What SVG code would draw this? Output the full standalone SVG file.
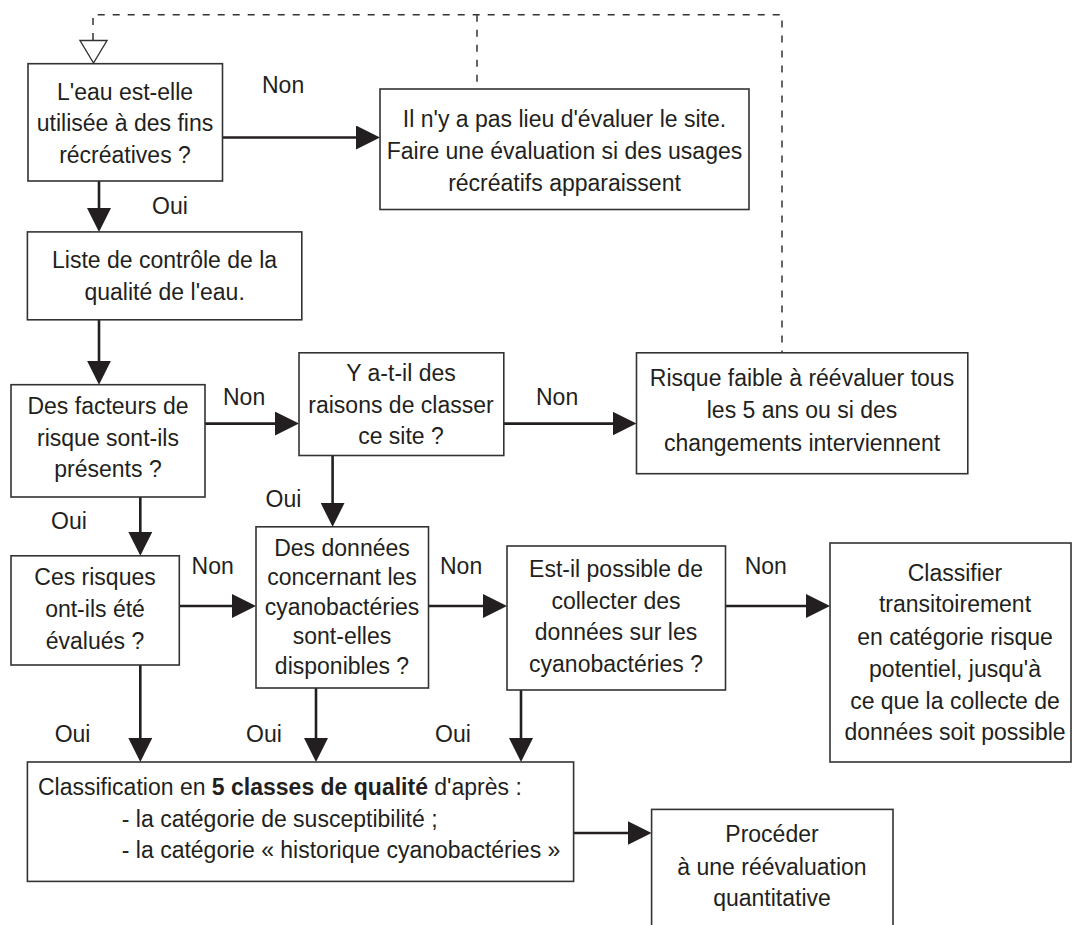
<svg xmlns="http://www.w3.org/2000/svg" width="1073" height="925" viewBox="0 0 1073 925">
<style>
  .box { fill: #ffffff; stroke: #333333; stroke-width: 1.6; }
  .t { font-family: "Liberation Sans", Arial, sans-serif; font-size: 23px; fill: #231f20; text-anchor: middle; }
  .tl { font-family: "Liberation Sans", Arial, sans-serif; font-size: 23px; fill: #231f20; text-anchor: start; }
  .lbl { font-family: "Liberation Sans", Arial, sans-serif; font-size: 23px; fill: #231f20; text-anchor: start; }
  .arr { fill: none; stroke: #231f20; stroke-width: 2.6; marker-end: url(#ah); }
  .dash { fill: none; stroke: #333333; stroke-width: 1.5; stroke-dasharray: 7 8; }
</style>
<defs>
  <marker id="ah" markerUnits="userSpaceOnUse" markerWidth="24" markerHeight="24" refX="20" refY="12" orient="auto">
    <path d="M0,0 L24,12 L0,24 z" fill="#231f20"/>
  </marker>
</defs>

<g id="connectors">
  <!-- dashed feedback loop -->
  <path class="dash" d="M93,40 L93,14.7 L782,14.7 L782,352.8"/>
  <path class="dash" d="M477,14.7 L477,89"/>
  <polygon points="80,40.5 107,40.5 93.5,63" fill="#ffffff" stroke="#333333" stroke-width="1.4"/>

  <path class="arr" d="M222.5,137.5 L376,137.5"/>
  <path class="arr" d="M99,181 L99,228"/>
  <path class="arr" d="M99,319.8 L99,380.7"/>
  <path class="arr" d="M205,423.6 L295,423.6"/>
  <path class="arr" d="M503.8,423.6 L632.5,423.6"/>
  <path class="arr" d="M332.6,455.5 L332.6,522.8"/>
  <path class="arr" d="M140.3,497 L140.3,551.8"/>
  <path class="arr" d="M179.3,606 L252,606"/>
  <path class="arr" d="M428.5,606 L503,606"/>
  <path class="arr" d="M725.5,606 L826,606"/>
  <path class="arr" d="M140.3,665 L140.3,758"/>
  <path class="arr" d="M316,688 L316,758"/>
  <path class="arr" d="M521,690 L521,758"/>
  <path class="arr" d="M573.6,833 L647.6,833"/>

  <text class="lbl" x="262" y="92.5">Non</text>
  <text class="lbl" x="152" y="213.5">Oui</text>
  <text class="lbl" x="223" y="405">Non</text>
  <text class="lbl" x="536" y="405">Non</text>
  <text class="lbl" x="265.6" y="506.7">Oui</text>
  <text class="lbl" x="51" y="529">Oui</text>
  <text class="lbl" x="191.6" y="574">Non</text>
  <text class="lbl" x="440" y="574">Non</text>
  <text class="lbl" x="744.7" y="574">Non</text>
  <text class="lbl" x="54.7" y="741.5">Oui</text>
  <text class="lbl" x="246" y="741.5">Oui</text>
  <text class="lbl" x="435" y="741.5">Oui</text>
</g>

<g id="node-usage">
  <rect class="box" x="28" y="63.7" width="194.5" height="117.3"/>
  <text class="t" x="125" y="100">L'eau est-elle</text>
  <text class="t" x="125" y="131">utilisée à des fins</text>
  <text class="t" x="125" y="162.8">récréatives ?</text>
</g>

<g id="node-pas-lieu">
  <rect class="box" x="380" y="89" width="369" height="120.5"/>
  <text class="t" x="564.5" y="127">Il n'y a pas lieu d'évaluer le site.</text>
  <text class="t" x="564.5" y="158.6">Faire une évaluation si des usages</text>
  <text class="t" x="564.5" y="190.5">récréatifs apparaissent</text>
</g>

<g id="node-liste">
  <rect class="box" x="27.4" y="231.9" width="274.4" height="87.9"/>
  <text class="t" x="164.6" y="268.4">Liste de contrôle de la</text>
  <text class="t" x="164.6" y="300.2">qualité de l'eau.</text>
</g>

<g id="node-facteurs">
  <rect class="box" x="11" y="384.7" width="194" height="112.3"/>
  <text class="t" x="108" y="414">Des facteurs de</text>
  <text class="t" x="108" y="446">risque sont-ils</text>
  <text class="t" x="108" y="477">présents ?</text>
</g>

<g id="node-raisons">
  <rect class="box" x="299" y="352.8" width="204.8" height="102.7"/>
  <text class="t" x="401" y="380.5">Y a-t-il des</text>
  <text class="t" x="401" y="413">raisons de classer</text>
  <text class="t" x="401" y="444">ce site ?</text>
</g>

<g id="node-risque-faible">
  <rect class="box" x="636.5" y="352.8" width="331.3" height="120.9"/>
  <text class="t" x="802" y="386.4">Risque faible à réévaluer tous</text>
  <text class="t" x="802" y="418">les 5 ans ou si des</text>
  <text class="t" x="802" y="450.7">changements interviennent</text>
</g>

<g id="node-evalues">
  <rect class="box" x="11" y="555.8" width="168.3" height="109.2"/>
  <text class="t" x="95" y="585">Ces risques</text>
  <text class="t" x="95" y="617">ont-ils été</text>
  <text class="t" x="95" y="649">évalués ?</text>
</g>

<g id="node-donnees">
  <rect class="box" x="256" y="526.8" width="172.5" height="161.2"/>
  <text class="t" x="342" y="556">Des données</text>
  <text class="t" x="342" y="585">concernant les</text>
  <text class="t" x="342" y="614.7">cyanobactéries</text>
  <text class="t" x="342" y="644">sont-elles</text>
  <text class="t" x="342" y="673.7">disponibles ?</text>
</g>

<g id="node-collecter">
  <rect class="box" x="507" y="546" width="218.5" height="144"/>
  <text class="t" x="616" y="577">Est-il possible de</text>
  <text class="t" x="616" y="608.8">collecter des</text>
  <text class="t" x="616" y="640">données sur les</text>
  <text class="t" x="616" y="672">cyanobactéries ?</text>
</g>

<g id="node-classifier">
  <rect class="box" x="830" y="543" width="241" height="219"/>
  <text class="t" x="955" y="580.5">Classifier</text>
  <text class="t" x="955" y="612">transitoirement</text>
  <text class="t" x="955" y="644.8">en catégorie risque</text>
  <text class="t" x="955" y="676.6">potentiel, jusqu'à</text>
  <text class="t" x="955" y="709">ce que la collecte de</text>
  <text class="t" x="955" y="740">données soit possible</text>
</g>

<g id="node-classification">
  <rect class="box" x="27.4" y="762" width="546.2" height="119.4"/>
  <text class="tl" x="38" y="794.6">Classification en <tspan font-weight="bold">5 classes de qualité</tspan> d'après :</text>
  <text class="tl" x="121.8" y="827">- la catégorie de susceptibilité ;</text>
  <text class="tl" x="121.8" y="858.3">- la catégorie « historique cyanobactéries »</text>
</g>

<g id="node-proceder">
  <rect class="box" x="651.6" y="809.4" width="241.4" height="130"/>
  <text class="t" x="772" y="842.4">Procéder</text>
  <text class="t" x="772" y="875">à une réévaluation</text>
  <text class="t" x="772" y="906">quantitative</text>
</g>
</svg>
